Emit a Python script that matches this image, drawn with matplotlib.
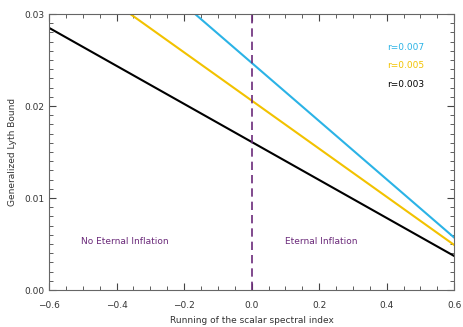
import matplotlib
matplotlib.use("Agg")
import matplotlib.pyplot as plt
from matplotlib.ticker import MultipleLocator

# running of the spectral index and the bound for each r
running = [-0.6, 0.0, 0.6]
bound_r003 = [0.0285, 0.0161, 0.0037]
bound_r005 = [0.0363, 0.0206, 0.0049]
bound_r007 = [0.0437, 0.0247, 0.0057]
labels = ["r=0.007", "r=0.005", "r=0.003"]

blue = "#2bb3e6"
yellow = "#f2c200"
purple = "#6b2a7a"
grey = "#444444"

def main():
    fig = plt.figure(figsize=(4.63, 3.27), dpi=100)
    ax = fig.add_axes([0.106, 0.113, 0.875, 0.844])

    ax.plot(running, bound_r003, color="black", lw=1.5)
    ax.plot(running, bound_r005, color=yellow, lw=1.5)
    ax.plot(running, bound_r007, color=blue, lw=1.5)
    ax.axvline(0.0, color=purple, lw=1.2, ls=(0, (5, 3)))

    ax.set_xlim(-0.6, 0.6)
    ax.set_ylim(0.0, 0.03)
    ax.xaxis.set_major_locator(MultipleLocator(0.2))
    ax.xaxis.set_minor_locator(MultipleLocator(0.05))
    ax.yaxis.set_major_locator(MultipleLocator(0.01))
    ax.yaxis.set_minor_locator(MultipleLocator(0.001))
    ax.set_xticklabels([f"{v:.1f}".replace("-", "\u2212") for v in ax.get_xticks()])
    ax.set_yticklabels([f"{v:.2f}" for v in ax.get_yticks()])
    ax.tick_params(which="both", direction="in", top=True, right=True,
                   colors=grey, labelsize=6.5, labelcolor="#333333")
    ax.tick_params(which="major", length=5)
    ax.tick_params(which="minor", length=3)
    ax.tick_params(axis="x", pad=8)
    for s in ax.spines.values():
        s.set_color("#666666")

    ax.set_xlabel("Running of the scalar spectral index", fontsize=6.5, color="#333333")
    ax.set_ylabel("Generalized Lyth Bound", fontsize=6.5, color="#333333", labelpad=5)

    colors = [blue, yellow, "black"]
    for i, (lab, c) in enumerate(zip(labels, colors)):
        ax.text(0.835, 0.88 - i * 0.068, lab, transform=ax.transAxes,
                color=c, fontsize=6.5, va="center")

    ax.text(-0.375, 0.0053, "No Eternal Inflation", color=purple, fontsize=6.5,
            ha="center", va="center")
    ax.text(0.205, 0.0053, "Eternal Inflation", color=purple, fontsize=6.5,
            ha="center", va="center")

    fig.savefig("out.png", dpi=100)

if __name__ == "__main__":
    main()
